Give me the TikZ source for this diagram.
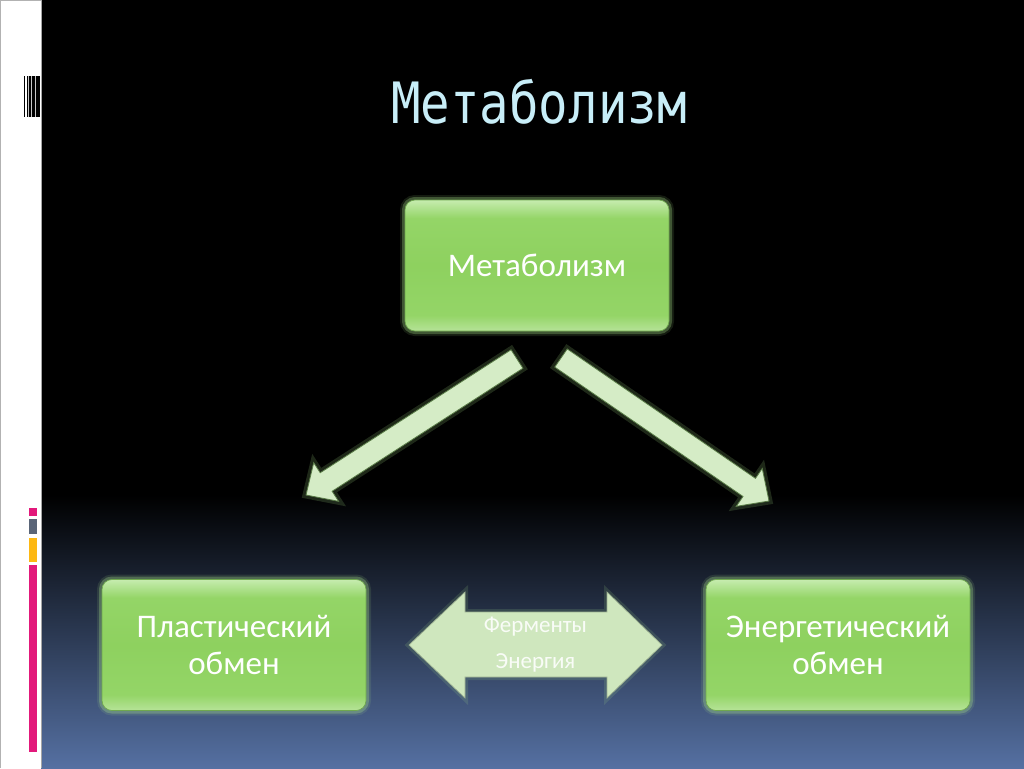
\documentclass[tikz,border=0pt]{standalone}
\usepackage{fontspec}
\setmainfont{Carlito}
\newfontfamily\titlefont[FakeStretch=0.86]{DejaVu Sans Mono}
\usetikzlibrary{calc}
\definecolor{bgblue}{HTML}{5570A2}
\definecolor{titlecol}{HTML}{C8EEF8}
\definecolor{boxgreen}{HTML}{8ED15F}
\definecolor{boxgreenb}{HTML}{94D567}
\definecolor{boxtop}{HTML}{C6ECAF}
\definecolor{boxbot}{HTML}{B6E398}
\definecolor{boxedge}{HTML}{6FA84E}
\definecolor{glowgreen}{HTML}{A8E08A}
\definecolor{arrfill}{HTML}{D5ECC6}
\definecolor{arredge}{HTML}{587A46}
\definecolor{darrfill}{HTML}{CFE7BE}
\definecolor{barpink}{HTML}{E2197B}
\definecolor{bargray}{HTML}{5A6578}
\definecolor{baryellow}{HTML}{FDB813}
\pgfdeclareverticalshading{boxshade}{100bp}{color(0bp)=(boxbot); color(25bp)=(boxbot); color(31bp)=(boxgreenb); color(50bp)=(boxgreen); color(68bp)=(boxgreenb); color(75bp)=(boxtop); color(100bp)=(boxtop)}
\tikzset{
  boxnode/.style={rounded corners=10pt, minimum width=264pt, minimum height=131pt,
    shading=boxshade, draw=boxedge, line width=0.7pt, text=white, align=center,
    inner sep=0pt,
    font=\fontsize{33}{37}\selectfont,
    preaction={draw=glowgreen, line width=10pt, draw opacity=0.12},
    preaction={draw=glowgreen, line width=6pt, draw opacity=0.3}},
  blockarr/.style={fill=arrfill, draw=arredge, line width=0.8pt, line join=miter,
    preaction={draw=glowgreen, line width=7pt, draw opacity=0.18}},
  darr/.style={fill=darrfill, draw=arredge!60, line width=0.7pt,
    preaction={draw=glowgreen, line width=6pt, draw opacity=0.15}},
  smalltext/.style={text=white!88!darrfill, font=\fontsize{23}{36}\selectfont, align=center}
}
\newcommand\blkarrow[2]{%
  \coordinate (hb) at ($(#2)!24pt!(#1)$);
  \draw[blockarr] ($(#1)!11pt!90:(#2)$) -- ($(hb)!11pt!90:(#2)$) -- ($(hb)!23pt!90:(#2)$)
    -- (#2) -- ($(hb)!23pt!-90:(#2)$) -- ($(hb)!11pt!-90:(#2)$) -- ($(#1)!11pt!-90:(#2)$) -- cycle;}
\begin{document}
\begin{tikzpicture}[x=1pt,y=-1pt]
\useasboundingbox (0,0) rectangle (1024,768);
% background
\fill[black] (41,0) rectangle (1024,768);
\shade[top color=black, bottom color=bgblue] (41,495) rectangle (1024,768);
% left strip
\fill[white] (0,0) rectangle (41,768);
\draw[gray!60, line width=0.8pt] (0.5,768) -- (0.5,0.5) -- (41,0.5);
\draw[gray!70, line width=0.6pt] (41,0) -- (41,768);
% barcode
\fill[gray!45] (25,76) rectangle (40,117);
\fill[black] (24,76) rectangle (25,117);
\fill[white] (25,76) rectangle (26.5,117);
\fill[black] (26.5,76) rectangle (27.5,117);
\fill[black] (28.5,76) rectangle (31,117);
\fill[black] (32,76) rectangle (35,117);
\fill[black] (36,76) rectangle (40,117);
% colour bars
\fill[barpink] (29,508) rectangle (37,516);
\fill[bargray] (29,519) rectangle (37,534);
\fill[baryellow] (29,538) rectangle (37,562);
\fill[barpink] (29,565) rectangle (37,752);
% title
\node[text=titlecol, font=\titlefont\fontsize{57}{60}\selectfont] (title) at (539,102) {Метаболизм};
% boxes
\node[boxnode] (top) at (537,265.5) {Метаболизм};
\node[boxnode] (left) at (234,645) {Пластический\\обмен};
\node[boxnode] (right) at (838,645) {Энергетический\\обмен};
% diagonal arrows
\coordinate (la) at (517,359);
\coordinate (lt) at (306,495);
\coordinate (ra) at (561,358);
\coordinate (rt) at (769,501);
\blkarrow{la}{lt}
\blkarrow{ra}{rt}
% double arrow
\coordinate (dl) at (409,645);
\coordinate (dr) at (662,645);
\draw[darr] (dl) -- (465,592) -- (465,612) -- (607,612) -- (607,592) -- (dr)
  -- (607,698) -- (607,677) -- (465,677) -- (465,698) -- cycle;
\node[smalltext] (mid) at (535.5,645) {Ферменты\\Энергия};
\end{tikzpicture}
\end{document}
